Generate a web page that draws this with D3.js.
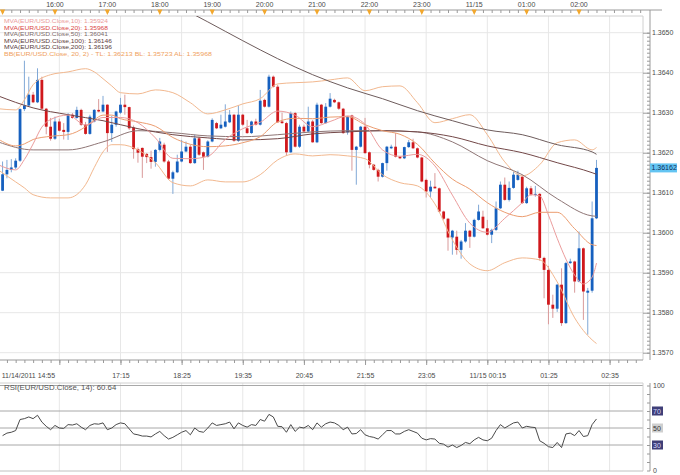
<!DOCTYPE html>
<html><head><meta charset="utf-8">
<script src="https://cdn.jsdelivr.net/npm/d3@7"></script>
<style>body{margin:0;background:#fff}svg{display:block}</style>
</head><body><svg id="c" width="680" height="475"></svg>
<script>
// ---------- DATA ----------
const startTime = "14:55";           // time of index 0, 5-minute bars
const firstBar = 1;                  // index of first bar (15:00)
const opens = [1.36105,1.36146,1.36157,1.36163,1.36180,1.36309,1.36318,1.36345,1.36326,1.36382,1.36310,1.36265,1.36235,1.36278,1.36257,1.36252,1.36295,1.36287,1.36307,1.36270,1.36247,1.36278,1.36307,1.36303,1.36320,1.36249,1.36270,1.36300,1.36320,1.36314,1.36263,1.36209,1.36212,1.36197,1.36189,1.36177,1.36207,1.36220,1.36178,1.36135,1.36151,1.36178,1.36203,1.36215,1.36174,1.36236,1.36201,1.36190,1.36228,1.36274,1.36261,1.36265,1.36276,1.36295,1.36230,1.36295,1.36261,1.36249,1.36278,1.36270,1.36332,1.36315,1.36390,1.36365,1.36278,1.36274,1.36201,1.36299,1.36215,1.36265,1.36253,1.36278,1.36226,1.36320,1.36274,1.36315,1.36332,1.36326,1.36310,1.36251,1.36293,1.36207,1.36215,1.36265,1.36201,1.36170,1.36157,1.36140,1.36174,1.36211,1.36215,1.36190,1.36186,1.36214,1.36226,1.36211,1.36188,1.36132,1.36103,1.36115,1.36111,1.36053,1.36035,1.35988,1.35990,1.35957,1.35978,1.36005,1.35990,1.36032,1.36040,1.36011,1.35995,1.36007,1.36061,1.36120,1.36082,1.36112,1.36132,1.36140,1.36074,1.36111,1.36095,1.36097,1.35937,1.35907,1.35820,1.35810,1.35870,1.35774,1.35924,1.35928,1.35878,1.35961,1.35850,1.35855,1.36036];
const highs = [1.36178,1.36182,1.36184,1.36186,1.36311,1.36430,1.36390,1.36352,1.36411,1.36390,1.36312,1.36287,1.36290,1.36285,1.36274,1.36299,1.36299,1.36315,1.36310,1.36277,1.36295,1.36309,1.36334,1.36342,1.36321,1.36292,1.36305,1.36337,1.36345,1.36315,1.36268,1.36213,1.36213,1.36199,1.36205,1.36209,1.36237,1.36225,1.36182,1.36155,1.36195,1.36232,1.36228,1.36220,1.36245,1.36240,1.36203,1.36231,1.36286,1.36277,1.36295,1.36321,1.36307,1.36297,1.36318,1.36297,1.36282,1.36280,1.36285,1.36357,1.36335,1.36395,1.36393,1.36370,1.36300,1.36277,1.36303,1.36302,1.36270,1.36270,1.36315,1.36282,1.36325,1.36322,1.36324,1.36349,1.36335,1.36328,1.36312,1.36292,1.36295,1.36217,1.36267,1.36287,1.36203,1.36172,1.36160,1.36175,1.36217,1.36220,1.36249,1.36192,1.36215,1.36232,1.36235,1.36213,1.36190,1.36135,1.36130,1.36149,1.36113,1.36055,1.36037,1.36007,1.36005,1.35982,1.36024,1.36007,1.36035,1.36070,1.36055,1.36032,1.36010,1.36078,1.36128,1.36138,1.36128,1.36153,1.36155,1.36145,1.36115,1.36117,1.36117,1.36099,1.35940,1.35917,1.35845,1.35872,1.35911,1.35927,1.35935,1.35930,1.36003,1.35963,1.35862,1.36078,1.36182];
const lows = [1.36104,1.36136,1.36151,1.36159,1.36177,1.36304,1.36315,1.36324,1.36324,1.36307,1.36246,1.36230,1.36232,1.36253,1.36233,1.36232,1.36285,1.36285,1.36267,1.36245,1.36245,1.36276,1.36301,1.36301,1.36202,1.36227,1.36265,1.36297,1.36295,1.36257,1.36185,1.36175,1.36137,1.36174,1.36160,1.36165,1.36203,1.36175,1.36132,1.36097,1.36149,1.36176,1.36201,1.36172,1.36172,1.36192,1.36157,1.36188,1.36226,1.36259,1.36259,1.36263,1.36274,1.36227,1.36227,1.36267,1.36247,1.36247,1.36268,1.36268,1.36313,1.36313,1.36363,1.36275,1.36272,1.36192,1.36199,1.36213,1.36212,1.36251,1.36251,1.36225,1.36224,1.36272,1.36272,1.36313,1.36324,1.36307,1.36247,1.36245,1.36155,1.36120,1.36213,1.36197,1.36161,1.36155,1.36128,1.36138,1.36155,1.36209,1.36188,1.36184,1.36184,1.36212,1.36209,1.36186,1.36126,1.36088,1.36088,1.36110,1.36051,1.36032,1.35955,1.35945,1.35945,1.35935,1.35975,1.35962,1.35988,1.36030,1.36010,1.35993,1.35974,1.36004,1.36059,1.36080,1.36078,1.36110,1.36130,1.36072,1.36072,1.36092,1.36090,1.35930,1.35836,1.35771,1.35787,1.35802,1.35767,1.35772,1.35922,1.35850,1.35876,1.35782,1.35745,1.35850,1.36034];
const closes = [1.36146,1.36157,1.36163,1.36180,1.36309,1.36318,1.36345,1.36326,1.36382,1.36310,1.36265,1.36235,1.36278,1.36255,1.36252,1.36295,1.36287,1.36307,1.36270,1.36247,1.36290,1.36307,1.36303,1.36320,1.36249,1.36270,1.36303,1.36320,1.36314,1.36261,1.36209,1.36200,1.36190,1.36189,1.36177,1.36207,1.36228,1.36178,1.36135,1.36151,1.36178,1.36203,1.36215,1.36174,1.36236,1.36195,1.36190,1.36228,1.36282,1.36261,1.36270,1.36278,1.36295,1.36230,1.36295,1.36270,1.36249,1.36278,1.36270,1.36330,1.36315,1.36390,1.36365,1.36276,1.36274,1.36201,1.36299,1.36215,1.36265,1.36253,1.36278,1.36226,1.36320,1.36274,1.36315,1.36335,1.36326,1.36310,1.36249,1.36290,1.36207,1.36215,1.36265,1.36199,1.36170,1.36157,1.36140,1.36174,1.36215,1.36215,1.36190,1.36186,1.36214,1.36226,1.36211,1.36188,1.36128,1.36103,1.36115,1.36111,1.36053,1.36035,1.35988,1.36005,1.35957,1.35978,1.36005,1.35990,1.36032,1.36053,1.36011,1.35995,1.36007,1.36061,1.36120,1.36082,1.36112,1.36145,1.36145,1.36074,1.36111,1.36095,1.36097,1.35937,1.35907,1.35820,1.35810,1.35870,1.35774,1.35924,1.35928,1.35878,1.35961,1.35853,1.35855,1.36036,1.36162];

// indicator lines at bar indices
const bbIdx = [0,4,6,8,12,16,20,22,24,26,28,32,36,40,44,48,52,56,60,64,68,72,76,80,84,88,92,96,100,104,108,112,116,120,124,128,132,136,137];
const bbUpper = [1.36310,1.36307,1.36332,1.36370,1.36395,1.36402,1.36410,1.36402,1.36385,1.36367,1.36350,1.36347,1.36357,1.36350,1.36325,1.36297,1.36307,1.36322,1.36335,1.36372,1.36375,1.36377,1.36382,1.36387,1.36355,1.36365,1.36367,1.36325,1.36275,1.36285,1.36295,1.36245,1.36177,1.36142,1.36170,1.36225,1.36232,1.36207,1.36213];
const bbLower = [1.36157,1.36127,1.36112,1.36095,1.36087,1.36087,1.36120,1.36163,1.36202,1.36220,1.36220,1.36207,1.36175,1.36125,1.36117,1.36132,1.36127,1.36127,1.36145,1.36182,1.36197,1.36192,1.36195,1.36192,1.36185,1.36145,1.36125,1.36117,1.36072,1.35982,1.35922,1.35905,1.35925,1.35937,1.35932,1.35877,1.35787,1.35732,1.35723];
const ma20 = [1.36234,1.36217,1.36222,1.36233,1.36241,1.36245,1.36265,1.36282,1.36294,1.36294,1.36285,1.36277,1.36266,1.36238,1.36221,1.36215,1.36217,1.36225,1.36240,1.36277,1.36286,1.36285,1.36289,1.36290,1.36270,1.36255,1.36246,1.36221,1.36174,1.36134,1.36109,1.36075,1.36051,1.36040,1.36051,1.36051,1.36010,1.35970,1.35968];
const ma10Idx = [0,4,6,8,10,12,16,20,24,28,32,36,40,44,48,52,56,60,64,68,72,76,80,84,88,92,96,100,104,108,112,116,120,122,124,126,128,130,132,134,136,137];
const ma10 = [1.36170,1.36157,1.36183,1.36222,1.36264,1.36283,1.36294,1.36269,1.36288,1.36288,1.36275,1.36237,1.36186,1.36185,1.36191,1.36233,1.36260,1.36276,1.36304,1.36294,1.36265,1.36278,1.36292,1.36271,1.36207,1.36191,1.36196,1.36167,1.36094,1.36024,1.36001,1.36036,1.36075,1.36095,1.36092,1.36044,1.35986,1.35934,1.35894,1.35872,1.35889,1.35924];
const slowIdx = [0,8,16,24,32,40,48,56,64,72,80,88,96,104,112,120,128,136,137];
const ma50 = [1.36227,1.36207,1.36207,1.36227,1.36255,1.36250,1.36242,1.36240,1.36245,1.36252,1.36255,1.36255,1.36252,1.36227,1.36180,1.36145,1.36085,1.36042,1.36041];
const ma100 = [1.36342,1.36312,1.36295,1.36280,1.36260,1.36245,1.36237,1.36232,1.36235,1.36247,1.36252,1.36255,1.36252,1.36240,1.36217,1.36200,1.36175,1.36150,1.36146];
const ma200Idx = [32,36,40,44,48,56,64,72,80,88,96,104,112,120,128,136,137];
const ma200 = [1.36620,1.36595,1.36572,1.36550,1.36527,1.36480,1.36435,1.36395,1.36362,1.36335,1.36305,1.36280,1.36257,1.36245,1.36220,1.36202,1.36196];
const rsi = [41,44,45,47,60,61,63,61,65,57,52,48,53,50,49.5,54,53.5,55,51,48,53,55,54.5,56,48,50,54,56,55,49,43,42,40.5,40.5,39.5,43,46,41,37,39,42,45,47,42,50,46,45,50,56,53,54,55,57,49,56,53,51,54,53,60,58,66,63,52,51.5,45,54,46,51,50,53,48,56,51,55,57,56,53,48,51,43,43.5,48,42,40,39,37,42,47,47,43,43,46,48,46,44,38,36,37.5,37,32,31,27.5,30,27,29.5,33,31.5,36,39,36,35,38,47,54,50,53,56,57,50,52,51,50.5,35,32,28,27,33,27,43,44,41,47,40,41,54,60.64];

const priceTicks = [1.3570,1.3580,1.3590,1.3600,1.3610,1.3620,1.3630,1.3640,1.3650];
const rsiTicks = [0,30,50,70,100];
const topTimes = ["15:00","16:00","17:00","18:00","19:00","20:00","21:00","22:00","23:00","00:00","01:00","02:00"];
const topLabels = ["","16:00","17:00","18:00","19:00","20:00","21:00","22:00","23:00","11/15","01:00","02:00"];
const bottomTimes = ["14:55","16:05","17:15","18:25","19:35","20:45","21:55","23:05","00:15","01:25","02:35"];
const bottomLabels = ["11/14/2011 14:55","","17:15","18:25","19:35","20:45","21:55","23:05","11/15 00:15","01:25","02:35"];
const legendText = ["MVA(EUR/USD.Close,10): 1.35924","MVA(EUR/USD.Close,20): 1.35968","MVA(EUR/USD.Close,50): 1.36041","MVA(EUR/USD.Close,100): 1.36146","MVA(EUR/USD.Close,200): 1.36196","BB(EUR/USD.Close, 20, 2) -  TL: 1.36213  BL: 1.35723  AL: 1.35968"];
const rsiLabel = "RSI(EUR/USD.Close, 14): 60.64";
const lastPrice = 1.36162;

// ---------- LAYOUT ----------
const FONT = '"Liberation Sans", Arial, sans-serif';
const PR = 643, PT = 16, PB = 360, AX = 650, RT = 383, RB = 471;
const C = {ma10:"#eb9c9c", ma20:"#ec9d70", ma50:"#8f7676", ma100:"#734848", ma200:"#6e5c5c", bb:"#f2b88f",
  up:"#1660bf", upW:"#80a8d6", dn:"#d0181c", dnW:"#d99a9a", grid:"#e7e7e7", axis:"#9a9a9a", text:"#4a4a4a"};
const legendColors = [C.ma10, "#d94545", "#7d6b6b", "#5f3c3c", "#573a3a", "#ef9f62"];
const legendWidths = [104,104,104,108,108,208];

function toIdx(t){ const [h,m]=t.split(":").map(Number); const [h0,m0]=startTime.split(":").map(Number);
  return (((h*60+m)-(h0*60+m0))+1440)%1440/5; }

const svg = d3.select("#c");
const x = d3.scaleLinear().domain([0,147.65]).range([-1.8,PR]);
const y = d3.scaleLinear().domain([1.3570,1.3650]).range([352.7,32.7]);
const ry = d3.scaleLinear().domain([0,100]).range([470.5,385.5]);

const defs = svg.append("defs");
defs.append("clipPath").attr("id","cm").append("rect").attr("x",0).attr("y",PT).attr("width",PR).attr("height",PB-PT);
defs.append("clipPath").attr("id","cr").append("rect").attr("x",0).attr("y",RT).attr("width",PR).attr("height",RB-RT);

const gridIdx = bottomTimes.map(toIdx);
// grids
const g = svg.append("g");
g.selectAll(".vg").data(gridIdx.slice(1)).join("line").attr("x1",d=>x(d)).attr("x2",d=>x(d)).attr("y1",PT).attr("y2",PB).attr("stroke",C.grid);
g.selectAll(".vr").data(gridIdx.slice(1)).join("line").attr("x1",d=>x(d)).attr("x2",d=>x(d)).attr("y1",RT).attr("y2",RB).attr("stroke",C.grid);
g.selectAll(".hg").data(priceTicks).join("line").attr("x1",0).attr("x2",PR).attr("y1",d=>y(d)).attr("y2",d=>y(d)).attr("stroke",C.grid);
// rsi level lines
g.selectAll(".rl").data([30,50,70,100]).join("line").attr("x1",0).attr("x2",PR).attr("y1",d=>ry(d)).attr("y2",d=>ry(d)).attr("stroke","#a8a8a8");

// frames
svg.append("line").attr("x1",0).attr("x2",PR).attr("y1",PT).attr("y2",PT).attr("stroke","#d0d0d0");
svg.append("line").attr("x1",PR).attr("x2",PR).attr("y1",PT).attr("y2",PB).attr("stroke","#d0d0d0");
svg.append("line").attr("x1",0).attr("x2",PR).attr("y1",RT).attr("y2",RT).attr("stroke","#d0d0d0");
svg.append("line").attr("x1",PR).attr("x2",PR).attr("y1",RT).attr("y2",RB).attr("stroke","#d0d0d0");
svg.append("line").attr("x1",0).attr("x2",PR).attr("y1",RB).attr("y2",RB).attr("stroke","#c0c0c0");

// ---------- candles ----------
const bars = opens.map((o,k)=>({i:firstBar+k,o,h:highs[k],l:lows[k],c:closes[k]}));
const cg = svg.append("g").attr("clip-path","url(#cm)");
cg.selectAll(".w").data(bars).join("line")
  .attr("x1",d=>x(d.i)).attr("x2",d=>x(d.i)).attr("y1",d=>y(d.h)).attr("y2",d=>y(d.l))
  .attr("stroke",d=>d.c>=d.o?C.upW:C.dnW).attr("stroke-width",1);
cg.selectAll(".b").data(bars).join("rect")
  .attr("x",d=>x(d.i)-1.4).attr("width",2.8)
  .attr("y",d=>y(Math.max(d.o,d.c))).attr("height",d=>Math.max(1,Math.abs(y(d.o)-y(d.c))))
  .attr("fill",d=>d.c>=d.o?C.up:C.dn);

// ---------- indicator lines ----------
function drawLine(idx, vals, color, scale, parent, curve){
  parent.append("path").datum(vals)
    .attr("d", d3.line().x((d,k)=>x(idx[k])).y(d=>scale(d)).curve(curve||d3.curveMonotoneX))
    .attr("fill","none").attr("stroke",color).attr("stroke-width",1);
}
const lg = svg.append("g").attr("clip-path","url(#cm)");
drawLine(bbIdx,bbUpper,C.bb,y,lg);
drawLine(bbIdx,bbLower,C.bb,y,lg);
drawLine(slowIdx,ma50,C.ma50,y,lg);
drawLine(slowIdx,ma100,C.ma100,y,lg);
drawLine(ma200Idx,ma200,C.ma200,y,lg);
drawLine(bbIdx,ma20,C.ma20,y,lg);
drawLine(ma10Idx,ma10,C.ma10,y,lg);

// RSI
const rg = svg.append("g").attr("clip-path","url(#cr)");
drawLine(rsi.map((d,k)=>firstBar+k), rsi, "#4a4a4a", ry, rg, d3.curveLinear);

// ---------- axes ----------
function styleAxis(sel){ sel.select(".domain").remove(); sel.selectAll("line").attr("stroke",C.axis);
  sel.selectAll("text").attr("font-family",FONT).attr("font-size",7).attr("fill",C.text); }

// top axis
svg.append("line").attr("x1",0).attr("x2",662).attr("y1",10).attr("y2",10).attr("stroke",C.axis);
const topMinor = d3.range(1,148,2);
svg.append("g").attr("transform","translate(0,10)").call(d3.axisBottom(x).tickValues(topMinor).tickSize(3).tickFormat("")).call(styleAxis);
const topIdx = topTimes.map(toIdx);
svg.append("g").selectAll("path").data(topIdx).join("path")
  .attr("d",d=>`M${x(d)-2.6},9.5L${x(d)+2.6},9.5L${x(d)},15Z`).attr("fill","#f2a72c");
svg.append("g").selectAll("text").data(topIdx).join("text")
  .attr("x",d=>x(d)).attr("y",7.3).attr("text-anchor","middle").text((d,k)=>topLabels[k])
  .attr("font-family",FONT).attr("font-size",7).attr("fill",C.text);

// bottom axis (main)
svg.append("line").attr("x1",0).attr("x2",PR).attr("y1",PB).attr("y2",PB).attr("stroke",C.axis);
svg.append("g").attr("transform",`translate(0,${PB})`).call(d3.axisBottom(x).tickValues(d3.range(2,148,2)).tickSize(3).tickFormat("")).call(styleAxis);
const bax = svg.append("g").attr("transform",`translate(0,${PB})`)
  .call(d3.axisBottom(x).tickValues(gridIdx).tickSize(5).tickPadding(8).tickFormat((d,k)=>bottomLabels[k])).call(styleAxis);
bax.selectAll("text").filter((d,k)=>k===0).attr("text-anchor","start").attr("x",3);

// right price axis
svg.append("line").attr("x1",AX).attr("x2",AX).attr("y1",10).attr("y2",PB).attr("stroke",C.axis);
svg.append("g").attr("transform",`translate(${AX},0)`).call(d3.axisLeft(y).tickValues(y.ticks(80)).tickSize(3).tickFormat("")).call(styleAxis);
svg.append("g").attr("transform",`translate(${AX},0)`).call(d3.axisLeft(y).tickValues(priceTicks).tickSize(7).tickFormat("")).call(styleAxis);
svg.append("g").attr("transform",`translate(${AX},0)`).call(d3.axisRight(y).tickValues(priceTicks).tickSize(0).tickPadding(2).tickFormat(d3.format(".4f"))).call(styleAxis);
// last price box
svg.append("rect").attr("x",AX).attr("y",y(lastPrice)-4.5).attr("width",27).attr("height",9).attr("fill","#63c4f2");
svg.append("text").attr("x",AX+1.5).attr("y",y(lastPrice)+2.5).text(d3.format(".5f")(lastPrice))
  .attr("font-family",FONT).attr("font-size",7).attr("fill","#0d2f5c");

// right rsi axis
svg.append("line").attr("x1",AX).attr("x2",AX).attr("y1",RT).attr("y2",RB).attr("stroke",C.axis);
svg.append("g").attr("transform",`translate(${AX},0)`).call(d3.axisLeft(ry).tickValues(d3.range(0,101,10)).tickSize(3).tickFormat("")).call(styleAxis);
const boxed = {70:["#3f3f78","#d8d8ff"],50:["#cfcfcf","#333"],30:["#3f3f78","#d8d8ff"]};
rsiTicks.forEach(v=>{
  if (boxed[v]) svg.append("rect").attr("x",AX+2).attr("y",ry(v)-4.5).attr("width",11).attr("height",9).attr("fill",boxed[v][0]);
  svg.append("text").attr("x",AX+3).attr("y",ry(v)+2.5).text(v).attr("font-family",FONT).attr("font-size",7)
    .attr("fill",boxed[v]?boxed[v][1]:C.text);
});

// legends (tight line spacing as in the original, widened glyphs)
svg.append("g").selectAll("text").data(legendText).join("text")
  .attr("x",4).attr("y",(d,k)=>23.2+k*6.5).text(d=>d)
  .attr("textLength",(d,k)=>legendWidths[k]).attr("lengthAdjust","spacingAndGlyphs")
  .attr("font-family",FONT).attr("font-size",5.8).attr("fill",(d,k)=>legendColors[k]);
svg.append("text").attr("x",4).attr("y",389.8).text(rsiLabel).attr("font-family",FONT).attr("font-size",7.8).attr("fill","#555");
</script></body></html>
